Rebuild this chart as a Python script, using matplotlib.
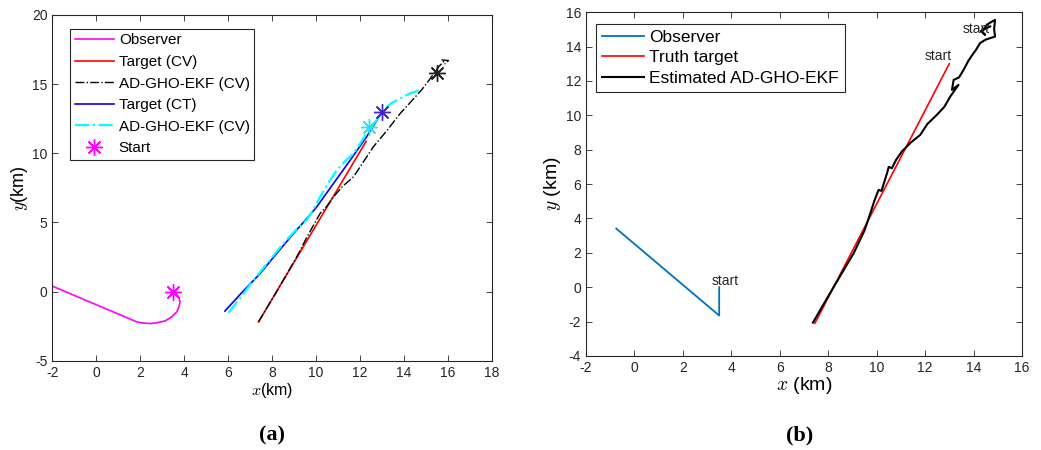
import numpy as np
import matplotlib.pyplot as plt

plt.rcParams['font.family'] = ['Liberation Sans', 'DejaVu Sans']
plt.rcParams['mathtext.fontset'] = 'cm'
plt.rcParams['axes.unicode_minus'] = False

# ---- panel (a) data (km) ----
obs_a_x = [3.48, 3.66, 3.76, 3.81, 3.76, 3.66, 3.43, 3.13, 2.75, 2.45, 2.14, 1.84, -2.0]
obs_a_y = [-0.01, -0.18, -0.44, -0.73, -1.09, -1.46, -1.82, -2.11, -2.25, -2.3, -2.27, -2.18, 0.4]

cv_x = [7.38, 12.27]
cv_y = [-2.18, 10.85]

est_cv_x = [7.38, 8.2, 9.12, 9.6, 10.18, 10.5, 10.79, 11.2, 11.7, 12.2, 12.6, 13.2,
            13.82, 14.3, 14.81, 15.1, 15.41, 15.6, 15.8, 15.7, 16.02, 15.85]
est_cv_y = [-2.18, 0.0, 2.52, 4.0, 5.65, 6.2, 6.85, 7.6, 8.3, 9.5, 10.46, 11.6,
            12.87, 13.7, 14.6, 15.2, 15.88, 16.3, 16.6, 16.75, 16.7, 16.45]

ct_x = [5.85, 6.6, 7.45, 8.2, 8.97, 9.5, 10.03, 10.79, 11.55, 12.3, 13.0]
ct_y = [-1.4, -0.1, 1.31, 2.75, 4.2, 5.15, 6.13, 7.82, 9.5, 11.2, 13.0]

est_ct_x = [6.01, 6.6, 7.15, 7.8, 8.51, 9.1, 9.57, 9.9, 10.18, 10.55, 10.94, 11.3,
            11.7, 12.0, 12.3, 12.7, 13.06, 13.4, 13.82, 14.3, 14.81]
est_ct_y = [-1.53, -0.35, 0.83, 2.1, 3.48, 4.5, 5.17, 6.0, 6.85, 7.85, 8.78, 9.4,
            9.98, 10.7, 11.43, 12.3, 13.11, 13.6, 13.96, 14.35, 14.6]

start_a_x = [3.5, 13.0, 12.4, 15.5]
start_a_y = [0.0, 13.0, 11.9, 15.8]
start_a_c = ['#ff00ff', '#4b22c8', '#22e8ee', '#222222']

# ---- panel (b) data (km) ----
obs_b_x = [3.5, 3.5, -0.75]
obs_b_y = [0.0, -1.65, 3.41]

truth_b_x = [7.45, 13.0]
truth_b_y = [-2.1, 13.0]

est_b_x = [7.37, 8.2, 9.05, 9.5, 9.74, 9.9, 10.08, 10.2, 10.43, 10.5, 10.63, 10.8,
           11.04, 11.4, 11.8, 12.1, 12.49, 12.8, 13.04, 13.38, 13.11, 13.18, 13.4,
           13.59, 13.8, 14.0, 14.1, 14.27, 14.5, 14.69, 14.89, 14.85, 14.89, 14.7,
           14.55, 14.35, 14.48, 14.3, 14.69]
est_b_y = [-2.06, -0.05, 1.97, 3.3, 4.3, 5.0, 5.66, 5.6, 6.63, 7.0, 6.92, 7.4,
           7.89, 8.4, 8.86, 9.5, 10.03, 10.5, 11.09, 11.77, 11.48, 12.06, 12.2,
           12.64, 13.2, 13.61, 13.8, 14.2, 14.4, 14.49, 14.58, 15.0, 15.55, 15.4,
           15.26, 14.87, 14.68, 14.9, 15.17]

fig = plt.figure(figsize=(10.41, 4.5), dpi=100)


def matlab_axes(ax):
    ax.tick_params(direction='in', top=True, right=True, labelsize=10,
                   colors='#262626', length=4, width=0.6)
    for s in ax.spines.values():
        s.set_color('#262626')
        s.set_linewidth(0.8)


# (a)
ax1 = fig.add_axes([0.0503, 0.198, 0.4223, 0.769])
ax1.plot(obs_a_x, obs_a_y, color='#ff00ff', lw=1.2, label='Observer')
ax1.plot(cv_x, cv_y, color='#ff0000', lw=1.2, label='Target (CV)')
ax1.plot(est_cv_x, est_cv_y, color='black', lw=1.0, ls='-.', label='AD-GHO-EKF (CV)')
ax1.plot(ct_x, ct_y, color='#0000ff', lw=1.2, label='Target (CT)')
ax1.plot(est_ct_x, est_ct_y, color='#00ffff', lw=1.6, ls='-.', label='AD-GHO-EKF (CV)')
for i in range(len(start_a_x)):
    ax1.plot(start_a_x[i], start_a_y[i], ls='none', marker=(8, 2, 0), ms=12,
             mew=1.0, color=start_a_c[i], label='Start' if i == 0 else None)
ax1.set_xlim(-2, 18)
ax1.set_ylim(-5, 20)
ax1.set_xticks(np.arange(-2, 19, 2))
ax1.set_yticks(np.arange(-5, 21, 5))
ax1.set_xlabel('$x$(km)', fontsize=11.5, labelpad=1)
ax1.set_ylabel('$y$(km)', fontsize=13, labelpad=1)
matlab_axes(ax1)
leg = ax1.legend(loc='upper left', bbox_to_anchor=(0.04, 0.96), fontsize=11,
                 fancybox=False, edgecolor='#262626', framealpha=1,
                 handlelength=2.6, handletextpad=0.3, labelspacing=0.5,
                 borderpad=0.3, borderaxespad=0)
leg.get_frame().set_linewidth(0.8)

# (b)
ax2 = fig.add_axes([0.5629, 0.209, 0.4188, 0.764])
ax2.plot(obs_b_x, obs_b_y, color='#0072bd', lw=1.3, label='Observer')
ax2.plot(truth_b_x, truth_b_y, color='#ff0000', lw=1.2, label='Truth target')
ax2.plot(est_b_x, est_b_y, color='black', lw=1.5, label='Estimated AD-GHO-EKF')
ax2.text(3.2, 0.35, 'start', fontsize=10, va='center', color='#262626')
ax2.text(12.0, 13.45, 'start', fontsize=10, va='center', color='#262626')
ax2.text(13.55, 15.0, 'start', fontsize=10, va='center', color='#262626')
ax2.set_xlim(-2, 16)
ax2.set_ylim(-4, 16)
ax2.set_xticks(np.arange(-2, 17, 2))
ax2.set_yticks(np.arange(-4, 17, 2))
ax2.set_xlabel('$x$ (km)', fontsize=14, labelpad=0)
ax2.set_ylabel('$y$ (km)', fontsize=14, labelpad=2)
matlab_axes(ax2)
leg = ax2.legend(loc='upper left', bbox_to_anchor=(0.023, 0.966), fontsize=12.5,
                 fancybox=False, edgecolor='#262626', framealpha=1,
                 handlelength=2.4, handletextpad=0.3, labelspacing=0.3,
                 borderpad=0.35, borderaxespad=0)
leg.get_frame().set_linewidth(0.8)

fig.text(0.261, 0.033, '(a)', fontsize=16, fontweight='bold', family='Liberation Serif',
         ha='center', va='center')
fig.text(0.768, 0.033, '(b)', fontsize=16, fontweight='bold', family='Liberation Serif',
         ha='center', va='center')

fig.savefig('out.png', dpi=100)
